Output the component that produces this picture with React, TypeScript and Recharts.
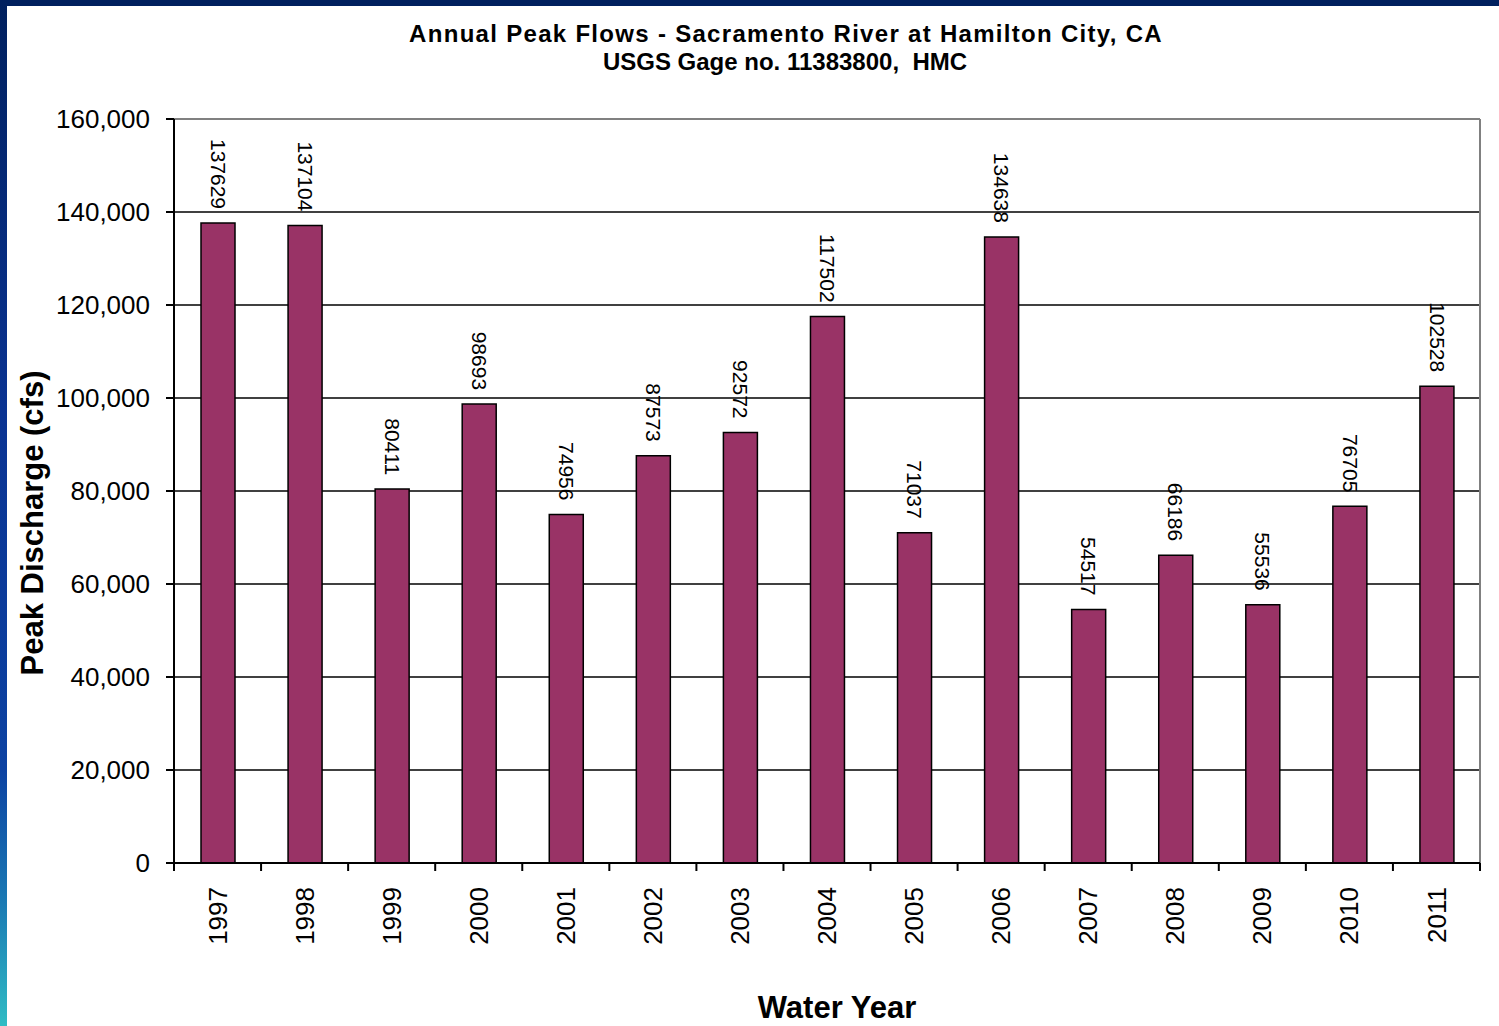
import { BarChart, Bar, XAxis, YAxis, CartesianGrid, ReferenceLine } from "recharts";

const years = ["1997", "1998", "1999", "2000", "2001", "2002", "2003", "2004", "2005", "2006", "2007", "2008", "2009", "2010", "2011"];
const peakFlows = [137629, 137104, 80411, 98693, 74956, 87573, 92572, 117502, 71037, 134638, 54517, 66186, 55536, 76705, 102528];
const yTicks = [0, 20000, 40000, 60000, 80000, 100000, 120000, 140000, 160000];

const data = years.map((year, i) => ({ year, flow: peakFlows[i] }));

const FONT = "'Liberation Sans', Arial, sans-serif";
const TICK_SIZE = 8;
const TICK_MARGIN = 16;

// year labels read bottom-to-top; tick marks sit on the category boundaries
function YearTick({ x, y, payload, index, visibleTicksCount }: any) {
  const half = payload.offset || 0;
  const axisY = y - TICK_SIZE - TICK_MARGIN;
  const isLast = index === visibleTicksCount - 1;
  return (
    <g>
      <line x1={x - half} x2={x - half} y1={axisY} y2={axisY + TICK_SIZE} stroke="#000" strokeWidth={2} />
      {isLast && <line x1={x + half} x2={x + half} y1={axisY} y2={axisY + TICK_SIZE} stroke="#000" strokeWidth={2} />}
      <text
        x={x}
        y={y}
        transform={`rotate(-90, ${x}, ${y})`}
        textAnchor="end"
        dy="0.35em"
        fontSize={26}
        fontFamily={FONT}
        fill="#000"
      >
        {payload.value}
      </text>
    </g>
  );
}

function FlowLabel({ x, y, width, value }: any) {
  const cx = x + width / 2;
  const cy = y - 14;
  return (
    <text
      x={cx}
      y={cy}
      transform={`rotate(90, ${cx}, ${cy})`}
      textAnchor="end"
      dy="0.35em"
      fontSize={21}
      fontFamily={FONT}
      fill="#000"
    >
      {value}
    </text>
  );
}

export default function App() {
  return (
    <div style={{ position: "absolute", left: 0, top: 0, width: 1499, height: 1026, background: "#fff", fontFamily: FONT, overflow: "hidden" }}>
      <div style={{ position: "absolute", left: 0, top: 0, width: 1499, height: 6, background: "#00205e" }} />
      <div
        style={{
          position: "absolute",
          left: 0,
          top: 0,
          width: 7,
          height: 1026,
          background: "linear-gradient(to bottom, #00205e 0%, #0a3392 40%, #0c42a2 75%, #1a7ab4 88%, #30bcc4 100%)",
        }}
      />
      <BarChart width={1499} height={1026} data={data} margin={{ top: 119, right: 19, left: 54, bottom: 63 }}>
        <CartesianGrid vertical={false} stroke="#000" strokeWidth={1.5} />
        <XAxis
          dataKey="year"
          interval={0}
          tickLine={false}
          tickSize={TICK_SIZE}
          tickMargin={TICK_MARGIN}
          axisLine={{ stroke: "#000", strokeWidth: 2 }}
          tick={<YearTick />}
          height={100}
        />
        <YAxis
          width={120}
          domain={[0, 160000]}
          ticks={yTicks}
          tickFormatter={(v: number) => v.toLocaleString("en-US")}
          tick={{ fill: "#000", fontSize: 26, fontFamily: FONT }}
          tickSize={TICK_SIZE}
          tickMargin={TICK_MARGIN}
          axisLine={{ stroke: "#000", strokeWidth: 2 }}
          tickLine={{ stroke: "#000", strokeWidth: 2 }}
        />
        <ReferenceLine y={160000} stroke="#808080" strokeWidth={2} />
        <ReferenceLine x="2011" position="end" stroke="#808080" strokeWidth={2} />
        <Bar
          dataKey="flow"
          fill="#993366"
          stroke="#000"
          strokeWidth={1.5}
          barSize={34}
          isAnimationActive={false}
          label={<FlowLabel />}
        />
      </BarChart>
      <div style={{ position: "absolute", left: 786, top: 34, transform: "translate(-50%, -50%)", fontSize: 24, fontWeight: 700, lineHeight: 1, whiteSpace: "nowrap", letterSpacing: 1.3 }}>
        Annual Peak Flows - Sacramento River at Hamilton City, CA
      </div>
      <div style={{ position: "absolute", left: 785, top: 62, transform: "translate(-50%, -50%)", fontSize: 24, fontWeight: 700, lineHeight: 1, whiteSpace: "nowrap" }}>
        USGS Gage no. 11383800,&nbsp; HMC
      </div>
      <div style={{ position: "absolute", left: 32, top: 523, transform: "translate(-50%, -50%) rotate(-90deg)", fontSize: 31, fontWeight: 700, lineHeight: 1, whiteSpace: "nowrap" }}>
        Peak Discharge (cfs)
      </div>
      <div style={{ position: "absolute", left: 837, top: 1007, transform: "translate(-50%, -50%)", fontSize: 31, fontWeight: 700, lineHeight: 1, whiteSpace: "nowrap" }}>
        Water Year
      </div>
    </div>
  );
}
